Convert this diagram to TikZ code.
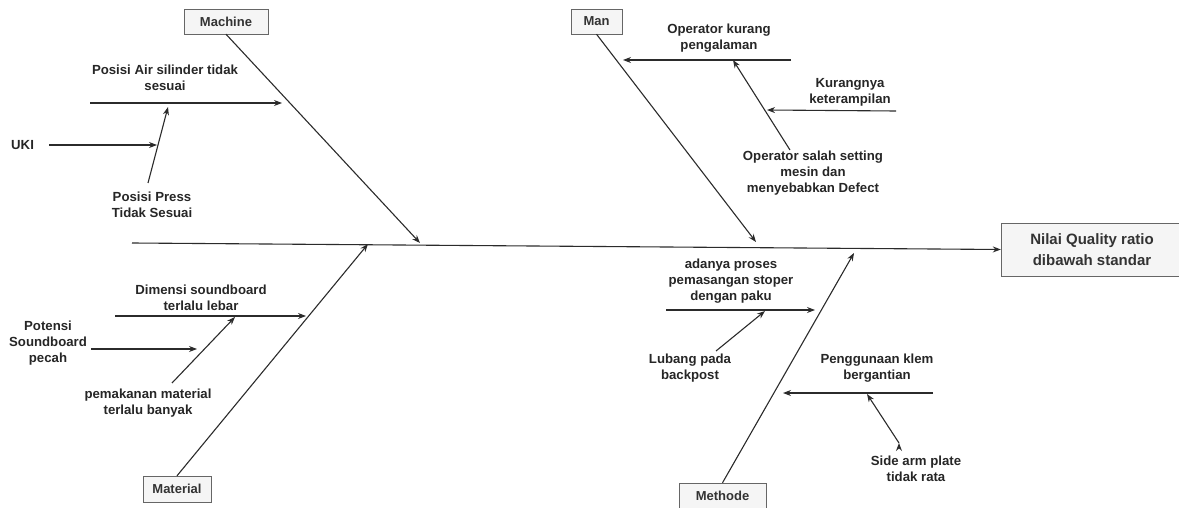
\documentclass[tikz,border=0pt]{standalone}
\usepackage{fontspec}
\setmainfont{Liberation Sans}
\usetikzlibrary{arrows.meta}
\definecolor{boxfill}{HTML}{F5F5F5}
\definecolor{boxline}{HTML}{666666}
\definecolor{boxtext}{HTML}{333333}
\definecolor{inkline}{HTML}{2B2B2B}
\tikzstyle{cat}=[rectangle, draw=boxline, fill=boxfill, text=boxtext, minimum height=25pt, inner sep=0pt, font=\bfseries\fontsize{13}{15}\selectfont]
\tikzstyle{cause}=[align=center, inner sep=0pt, text=black!85, font=\bfseries\fontsize{13.2}{16.3}\selectfont]

\begin{document}
\begin{tikzpicture}[x=1pt, y=-1pt, >={Stealth[length=8pt,width=6pt]}, bone/.style = {draw=inkline, line width=1.1pt}]
    \useasboundingbox (0,0) rectangle (1179,508);
    \clip (0,0) rectangle (1179,508);

    % head and spine
    \node (effect) [cat, minimum width=182pt, minimum height=53pt, align=center, font=\bfseries\fontsize{15}{21.5}\selectfont] at (1092,249.5) {Nilai Quality ratio\\dibawah standar};
    \coordinate (tail) at (132,243);

    % categories
    \node (machine) [cat, minimum width=84pt] at (226,21.5) {Machine};
    \node (man) [cat, minimum width=51pt] at (596.5,21.5) {Man};
    \node (material) [cat, minimum width=68pt, minimum height=26pt] at (177,489) {Material};
    \node (methode) [cat, minimum width=87pt, minimum height=26pt] at (722.5,496) {Methode};

    \coordinate (mc-end) at (420,243);
    \coordinate (man-end) at (756,242);
    \coordinate (mat-end) at (368,244);
    \coordinate (met-end) at (854,253);

    % causes: machine
    \node (airsil) [cause] at (165,78) {Posisi Air silinder tidak\\sesuai};
    \node (uki) [cause, anchor=west] at (11,145) {UKI};
    \node (press) [cause] at (152,205) {Posisi Press\\Tidak Sesuai};
    \coordinate (airsil-a) at (90,103);
    \coordinate (airsil-b) at (282,103);
    \coordinate (uki-a) at (49,145);
    \coordinate (uki-b) at (157,145);
    \coordinate (press-a) at (148,183);
    \coordinate (press-b) at (168,107);

    % causes: material
    \node (dimensi) [cause] at (201,298) {Dimensi soundboard\\terlalu lebar};
    \node (potensi) [cause] at (48,343) {Potensi\\Soundboard\\pecah};
    \node (pemakanan) [cause] at (148,403) {pemakanan material\\terlalu banyak};
    \coordinate (dimensi-a) at (115,316);
    \coordinate (dimensi-b) at (306,316);
    \coordinate (potensi-a) at (91,349);
    \coordinate (potensi-b) at (197,349);
    \coordinate (pemakanan-a) at (172,383);
    \coordinate (pemakanan-b) at (235,317);

    % causes: man
    \node (kurang) [cause] at (719,38) {Operator kurang\\pengalaman};
    \node (terampil) [cause] at (850,92) {Kurangnya\\keterampilan};
    \node (salah) [cause] at (813,173) {Operator salah setting\\mesin dan\\menyebabkan Defect};
    \coordinate (kurang-a) at (791,60);
    \coordinate (kurang-b) at (623,60);
    \coordinate (terampil-a) at (896,111);
    \coordinate (terampil-b) at (767,110);
    \coordinate (salah-a) at (790,150);
    \coordinate (salah-b) at (733,60);

    % causes: methode
    \node (stoper) [cause] at (731,281) {adanya proses\\pemasangan stoper\\dengan paku};
    \node (lubang) [cause] at (690,368) {Lubang pada\\backpost};
    \node (klem) [cause] at (877,368) {Penggunaan klem\\bergantian};
    \node (sidearm) [cause] at (916,469) {Side arm plate\\tidak rata};
    \coordinate (stoper-a) at (666,310);
    \coordinate (stoper-b) at (815,310);
    \coordinate (lubang-a) at (716,351);
    \coordinate (lubang-b) at (765,311);
    \coordinate (klem-a) at (933,393);
    \coordinate (klem-b) at (783,393);
    \coordinate (sidearm-a) at (899,443);
    \coordinate (sidearm-b) at (867,394);

    \path[->, bone]
    (tail) edge (effect.west)
    (machine.south) edge (mc-end)
    (man.south) edge (man-end)
    (material.north) edge (mat-end)
    (methode.north) edge (met-end)
    (airsil-a) edge (airsil-b)
    (uki-a) edge (uki-b)
    (press-a) edge (press-b)
    (dimensi-a) edge (dimensi-b)
    (potensi-a) edge (potensi-b)
    (pemakanan-a) edge (pemakanan-b)
    (kurang-a) edge (kurang-b)
    (terampil-a) edge (terampil-b)
    (salah-a) edge (salah-b)
    (stoper-a) edge (stoper-b)
    (lubang-a) edge (lubang-b)
    (klem-a) edge (klem-b)
    (sidearm-a) edge (sidearm-b);
\end{tikzpicture}
\end{document}
